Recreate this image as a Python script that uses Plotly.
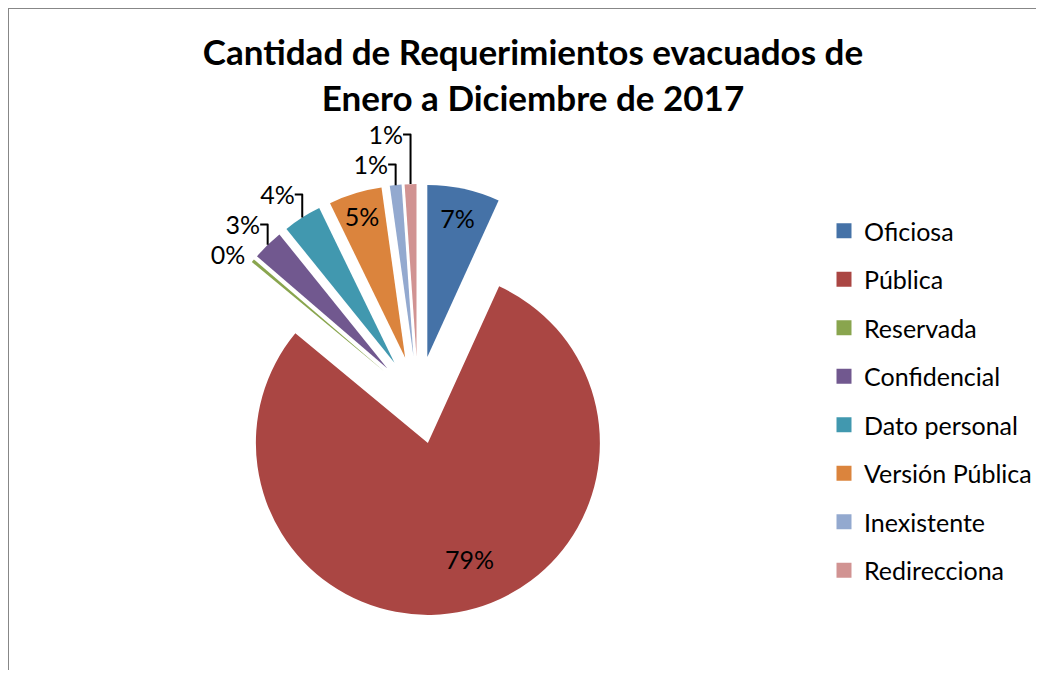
import plotly.graph_objects as go

labels = ["Oficiosa", "Pública", "Reservada", "Confidencial", "Dato personal",
          "Versión Pública", "Inexistente", "Redirecciona"]
values = [6.8, 79.2, 0.3, 2.9, 3.6, 5.0, 1.1, 1.1]
colors = ["#4572A7", "#AA4643", "#89A54E", "#71588F", "#4198AF",
          "#DB843D", "#93A9CF", "#D19392"]
text_pos = ["inside", "inside", "outside", "outside", "outside",
            "inside", "outside", "outside"]
title_text = "Cantidad de Requerimientos evacuados de<br>Enero a Diciembre de 2017"

W, H = 1028, 662   # page body adds 8px margin on each side
FONT = "Lato"

cx, cy, r, pull = 410, 392, 172, 0.256
half = r * (1 + pull)

# label template per slice (the large slice's label sits lower/right, as in Excel)
templates = ["%{percent:.0%}"] * len(values)
templates[1] = "&nbsp;<br>&nbsp;<br>" + "&nbsp;" * 7 + "%{percent:.0%}"

fig = go.Figure()
fig.add_trace(go.Pie(
    labels=labels, values=values, sort=False, direction="clockwise", rotation=0,
    pull=[pull] * len(values),
    marker=dict(colors=colors, line=dict(width=0)),
    texttemplate=templates, textposition=text_pos,
    insidetextorientation="horizontal",
    textfont=dict(size=25, color="black", family=FONT),
    showlegend=False,
    domain=dict(x=[(cx - half - 4) / W, (cx + half + 4) / W],
                y=[1 - (cy + half) / H, 1 - (cy - half) / H]),
))

for lab, col in zip(labels, colors):
    fig.add_trace(go.Scatter(
        x=[None], y=[None], mode="markers", name=lab, legendgroup=lab,
        marker=dict(symbol="square", size=15, color=col),
    ))

fig.update_layout(
    width=W, height=H,
    margin=dict(l=0, r=0, t=0, b=0, autoexpand=False),
    paper_bgcolor="white", plot_bgcolor="white",
    xaxis=dict(visible=False), yaxis=dict(visible=False),
    font=dict(family=FONT, color="black"),
    title=dict(text=title_text, x=525 / W, xanchor="center",
               y=1 - 57 / H, yanchor="top",
               font=dict(size=35, family=FONT, color="black", weight="bold")),
    legend=dict(x=816 / W, xanchor="left", y=1 - 200 / H, yanchor="top",
                font=dict(size=25, family=FONT, color="black"),
                tracegroupgap=13, bgcolor="rgba(0,0,0,0)"),
    shapes=[
        dict(type="line", xref="paper", yref="paper", x0=0, x1=1.05, y0=1, y1=1,
             line=dict(color="#878787", width=2)),
        dict(type="line", xref="paper", yref="paper", x0=0, x1=0, y0=-0.05, y1=1,
             line=dict(color="#878787", width=2)),
    ],
)

fig.write_html("out.html")
